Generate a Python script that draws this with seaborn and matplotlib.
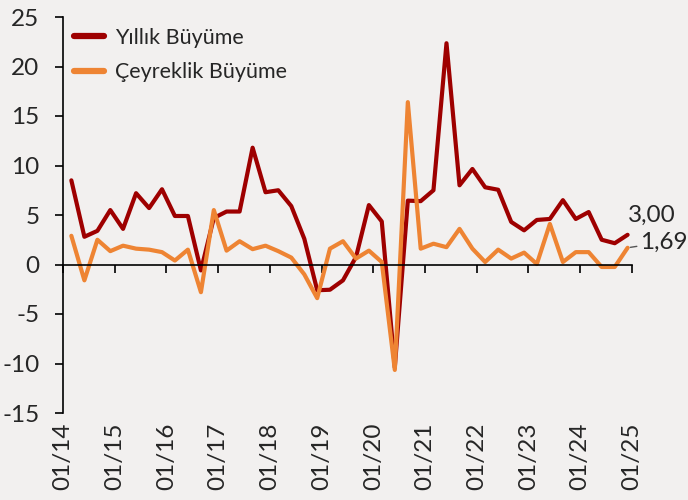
import matplotlib
matplotlib.use("Agg")
import matplotlib.pyplot as plt
import seaborn as sns
import pandas as pd

# Quarterly observations (quarter-end months), 2014Q1 .. 2024Q4
dates = pd.date_range("2014-03-01", "2024-12-01", freq="3MS")

yillik = [8.5, 2.8, 3.4, 5.5, 3.6, 7.2, 5.7, 7.6, 4.9, 4.9, -0.6, 4.7,
          5.35, 5.35, 11.8, 7.3, 7.5, 5.9, 2.6, -2.6, -2.55, -1.6, 0.75, 6.0,
          4.35, -10.4, 6.45, 6.4, 7.5, 22.35, 8.0, 9.65, 7.8, 7.55, 4.3, 3.45,
          4.5, 4.6, 6.5, 4.6, 5.3, 2.5, 2.15, 3.00]
ceyreklik = [2.9, -1.6, 2.5, 1.35, 1.9, 1.6, 1.5, 1.25, 0.4, 1.5, -2.8, 5.5,
             1.4, 2.35, 1.55, 1.9, 1.35, 0.7, -1.0, -3.4, 1.6, 2.35, 0.6, 1.4,
             0.25, -10.65, 16.4, 1.6, 2.1, 1.75, 3.6, 1.6, 0.25, 1.5, 0.6, 1.2,
             0.05, 4.1, 0.25, 1.25, 1.25, -0.25, -0.25, 1.69]

series_names = ["Yıllık Büyüme", "Çeyreklik Büyüme"]
colors = ["#9E0000", "#EE8433"]
y_ticks = [25, 20, 15, 10, 5, 0, -5, -10, -15]
x_tick_years = list(range(2014, 2026))
end_labels = ["3,00", "1,69"]

df = pd.concat([
    pd.DataFrame({"date": dates, "value": yillik, "seri": series_names[0]}),
    pd.DataFrame({"date": dates, "value": ceyreklik, "seri": series_names[1]}),
])

sns.set_style("white")
plt.rcParams["font.family"] = ["Lato", "DejaVu Sans"]
plt.rcParams["axes.unicode_minus"] = False

bg = "#F2F0EF"
fig = plt.figure(figsize=(6.88, 5.0), dpi=100, facecolor=bg)
ax = fig.add_axes([63 / 688, 87 / 500, (632 - 63) / 688, (413 - 17) / 500])
ax.set_facecolor(bg)

sns.lineplot(data=df, x="date", y="value", hue="seri", hue_order=series_names,
             palette=colors, linewidth=3.0, ax=ax, legend=True,
             solid_capstyle="round", solid_joinstyle="round")

ax.set_xlim(pd.Timestamp("2014-01-01"), pd.Timestamp("2025-01-01"))
ax.set_ylim(-15, 25)

# spines
for s in ["top", "right"]:
    ax.spines[s].set_visible(False)
ax.spines["left"].set_color("black")
ax.spines["left"].set_linewidth(1.2)
ax.spines["bottom"].set_color("black")
ax.spines["bottom"].set_linewidth(1.2)
ax.spines["bottom"].set_position(("data", 0))

ax.set_yticks(y_ticks)
ax.set_yticklabels([str(v) for v in y_ticks])
xt = [pd.Timestamp(f"{y}-01-01") for y in x_tick_years]
ax.set_xticks(xt)
ax.set_xticklabels([f"01/{str(y)[2:]}" for y in x_tick_years], rotation=90)

ax.tick_params(axis="y", direction="out", length=6, width=1.2, color="black",
               labelsize=17.5, pad=11, left=True)
ax.tick_params(axis="x", direction="out", length=6, width=1.2, color="black",
               labelsize=17.5, pad=108, bottom=True)
ax.set_xlabel("")
ax.set_ylabel("")
ax.grid(False)

leg = ax.legend(loc="upper left", frameon=False, fontsize=15.5,
                bbox_to_anchor=(0.0, 1.0), handlelength=1.4,
                handletextpad=0.5, labelspacing=0.68, borderaxespad=0.3,
                borderpad=0.2)
for line in leg.get_lines():
    line.set_linewidth(4.5)
    line.set_solid_capstyle("round")

# end labels
ax.annotate(end_labels[0], xy=(dates[-1], yillik[-1]), xytext=(0, 14),
            textcoords="offset points", fontsize=17.5, ha="left", va="center")
ax.annotate(end_labels[1], xy=(dates[-1], ceyreklik[-1]), xytext=(9, 4),
            textcoords="offset points", fontsize=17.5, ha="left", va="center",
            arrowprops=dict(arrowstyle="-", color="#555555", lw=1,
                            shrinkA=0, shrinkB=2))

fig.savefig("out.png", dpi=100, facecolor=bg)
